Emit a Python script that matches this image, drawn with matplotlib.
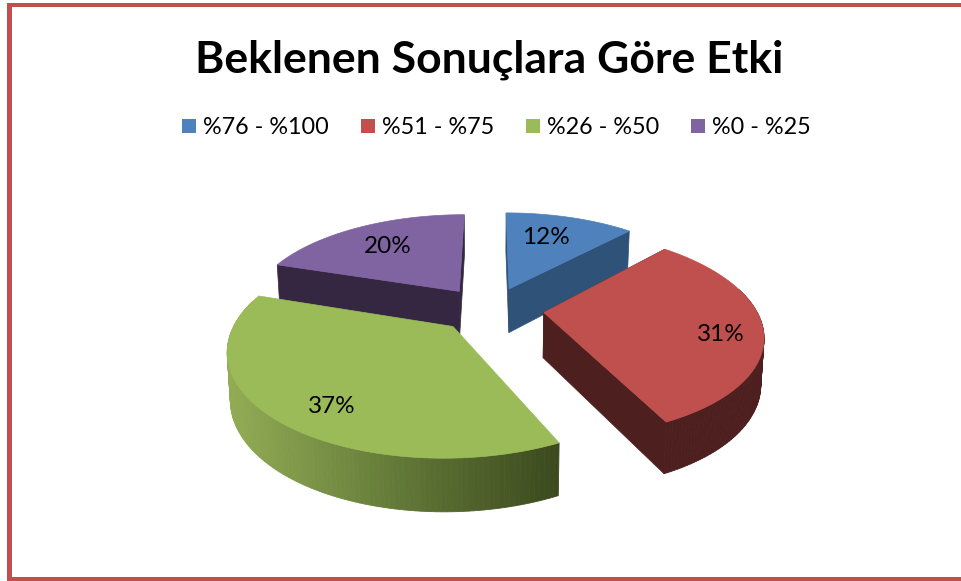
import numpy as np
import matplotlib
matplotlib.use("Agg")
import matplotlib.pyplot as plt
from matplotlib.patches import Polygon, Rectangle

plt.rcParams["font.family"] = ["Lato", "DejaVu Sans"]

TITLE = "Beklenen Sonuçlara Göre Etki"
categories = ["%76 - %100", "%51 - %75", "%26 - %50", "%0 - %25"]
values = [12, 31, 37, 20]
labels = ["12%", "31%", "37%", "20%"]

top_colors = ["#4F81BD", "#C0504D", "#9BBB59", "#8064A2"]
wall_colors = ["#2F5279", "#4D1F1E", "#3F4D20", "#352742"]
legend_x = [182, 361, 526, 691]
label_nudge = [(-7, 0), (29, 11), (-7, 20), (0, 1)]

# projection of the tilted pie, in pixels
CX, CY = 490, 309
RX, RY = 212, 98
TILT = 0.196
EXPLODE_X = 0.255
EXPLODE_Y = 0.23
HEIGHT = 45
BORDER = "#C0504D"


def project(x, y, drop=0.0):
    d = 1 + TILT * y
    sx = CX + RX * x / d
    sy = CY - RY * y / d + HEIGHT * drop / (1 + 0.7 * TILT * y)
    if drop:
        sx = CX + (sx - CX) * 0.988
    return sx, sy


def slice_points(start, end, drop=0.0):
    mid = (start + end) / 2
    ox, oy = EXPLODE_X * np.sin(mid), EXPLODE_Y * np.cos(mid)
    t = np.linspace(start, end, 120)
    px, py = project(ox + np.sin(t), oy + np.cos(t), drop)
    ax_, ay_ = project(ox, oy, drop)
    return (ax_, ay_), px, py


def green_shade(x):
    stops_x = [228, 330, 440, 558]
    stops = np.array([[146, 172, 84], [118, 143, 68], [88, 108, 48], [60, 74, 30]]) / 255
    return [np.interp(x, stops_x, stops[:, i]) for i in range(3)]


fig = plt.figure(figsize=(9.62, 5.81), dpi=100)
ax = fig.add_axes([0, 0, 1, 1])
ax.set_xlim(0, 962)
ax.set_ylim(581, 0)
ax.axis("off")

# frame: left, top and bottom only
ax.add_patch(Rectangle((7, 3), 955, 4, color=BORDER, lw=0))
ax.add_patch(Rectangle((7, 3), 5, 578, color=BORDER, lw=0))
ax.add_patch(Rectangle((7, 577), 955, 4, color=BORDER, lw=0))

ax.text(489, 60, TITLE, fontsize=32, fontweight="bold", ha="center", va="center", color="black")

for x, name, c in zip(legend_x, categories, top_colors):
    ax.add_patch(Rectangle((x, 119), 14, 14, color=c, lw=0))
    ax.text(x + 21, 128, name, fontsize=16.8, ha="left", va="center", color="black")

fractions = np.array(values) / sum(values)
edges = np.concatenate([[0], np.cumsum(fractions)]) * 2 * np.pi
slices = list(zip(edges[:-1], edges[1:]))

# far slices first so the near ones cover them
for i in [3, 0, 1, 2]:
    start, end = slices[i]
    apex, px, py = slice_points(start, end)
    apex_b, bx, by = slice_points(start, end, drop=1.0)

    # flat cut faces
    if i != 2:
        ax.add_patch(Polygon([apex, (px[0], py[0]), (bx[0], by[0]), apex_b], color=wall_colors[i], lw=0.5))
        ax.add_patch(Polygon([apex, (px[-1], py[-1]), (bx[-1], by[-1]), apex_b], color=wall_colors[i], lw=0.5))

    # rim, in short strips so the green one can carry its shading
    for j in range(len(px) - 1):
        if np.cos((start + (end - start) * j / 119)) > 0.25:
            continue
        c = green_shade(px[j]) if i == 2 else wall_colors[i]
        ax.add_patch(Polygon([(px[j], py[j]), (px[j + 1], py[j + 1]), (bx[j + 1], by[j + 1]), (bx[j], by[j])],
                             facecolor=c, edgecolor=c, lw=0.6))

    top = [apex] + list(zip(px, py))
    ax.add_patch(Polygon(top, closed=True, color=top_colors[i], lw=0.5))

# data labels sit inside the top faces
for (start, end), text, nudge in zip(slices, labels, label_nudge):
    mid = (start + end) / 2
    ox, oy = (EXPLODE_X + 0.68) * np.sin(mid), (EXPLODE_Y + 0.68) * np.cos(mid)
    lx, ly = project(ox, oy)
    ax.text(lx + nudge[0], ly + nudge[1], text, fontsize=17.5, ha="center", va="center", color="black")

fig.savefig("out.png", dpi=100)
